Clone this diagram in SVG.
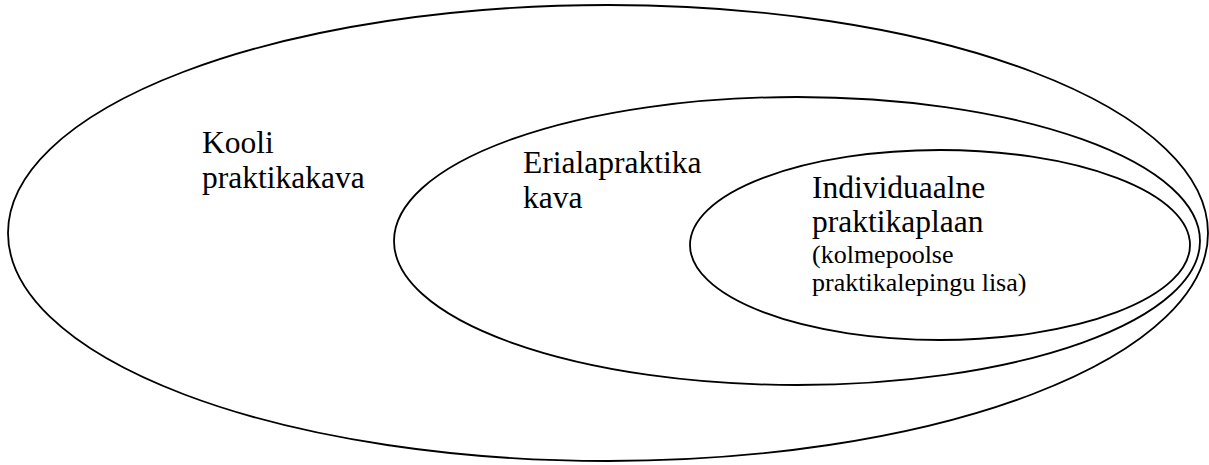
<svg xmlns="http://www.w3.org/2000/svg" width="1209" height="465" viewBox="0 0 1209 465">
<defs>
<style>
.e{fill:none;stroke:#000;stroke-width:1.8}
.t{font-size:31.5px;fill:#000}
.s{font-size:26px;fill:#000}
</style>
</defs>
<rect width="1209" height="465" fill="#fff"/>
<g id="kooli">
<ellipse class="e" cx="608" cy="233" rx="600" ry="228"/>
<text class="t" font-family="Liberation Serif, Tinos, DejaVu Serif, serif" x="202" y="153">Kooli</text>
<text class="t" font-family="Liberation Serif, Tinos, DejaVu Serif, serif" x="202" y="188">praktikakava</text>
</g>
<g id="eriala">
<ellipse class="e" cx="797" cy="241" rx="403" ry="144"/>
<text class="t" font-family="Liberation Serif, Tinos, DejaVu Serif, serif" x="523" y="173">Erialapraktika</text>
<text class="t" font-family="Liberation Serif, Tinos, DejaVu Serif, serif" x="523" y="208">kava</text>
</g>
<g id="individuaalne">
<ellipse class="e" cx="940" cy="245" rx="250" ry="95"/>
<text class="t" font-family="Liberation Serif, Tinos, DejaVu Serif, serif" x="812" y="198">Individuaalne</text>
<text class="t" font-family="Liberation Serif, Tinos, DejaVu Serif, serif" x="812" y="232">praktikaplaan</text>
<text class="s" font-family="Liberation Serif, Tinos, DejaVu Serif, serif" x="812" y="263">(kolmepoolse</text>
<text class="s" font-family="Liberation Serif, Tinos, DejaVu Serif, serif" x="812" y="291">praktikalepingu lisa)</text>
</g>
<g id="connectors"/>
</svg>
